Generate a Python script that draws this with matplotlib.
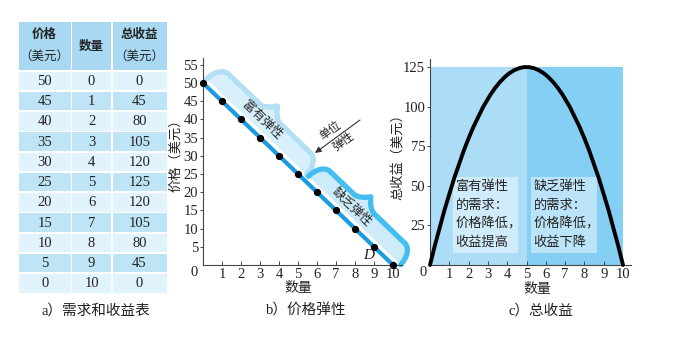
import numpy as np
import matplotlib
matplotlib.use('Agg')
import matplotlib.pyplot as plt
from matplotlib.patches import Rectangle, Polygon, PathPatch
from matplotlib.path import Path

plt.rcParams['font.family'] = ['Liberation Serif', 'Noto Sans CJK SC']

# ---------------- data ----------------
price = [50, 45, 40, 35, 30, 25, 20, 15, 10, 5, 0]
quantity = [0, 1, 2, 3, 4, 5, 6, 7, 8, 9, 10]
revenue = [0, 45, 80, 105, 120, 125, 120, 105, 80, 45, 0]
xticks = [1, 2, 3, 4, 5, 6, 7, 8, 9, 10]
yticks_b = [5, 10, 15, 20, 25, 30, 35, 40, 45, 50, 55]
yticks_c = [25, 50, 75, 100, 125]

W, H = 690, 358
fig = plt.figure(figsize=(W / 100, H / 100), dpi=100)

# overlay axes in pixel coordinates (top-left origin)
ax_t = fig.add_axes([0, 0, 1, 1])
ax_t.set_xlim(0, W)
ax_t.set_ylim(H, 0)
ax_t.axis('off')

CJK = ['Noto Sans CJK SC', 'Liberation Serif']
SER = ['Liberation Serif', 'Noto Sans CJK SC']
TXT = '#222222'

# ---------------- table (a) ----------------
cols = [(18.5, 70.8), (72.0, 111.2), (112.6, 166.5)]
hdr_top, hdr_bot = 21.5, 70.0
row_top0, row_step, row_h = 71.5, 20.25, 18.6
c_hdr, c_light, c_dark = '#a9d9f2', '#e1f3fc', '#bee4f6'
for (x0, x1) in cols:
    ax_t.add_patch(Rectangle((x0, hdr_top), x1 - x0, hdr_bot - hdr_top, fc=c_hdr, ec='none'))
for i in range(len(price)):
    top = row_top0 + row_step * i
    col = c_light if i % 2 == 0 else c_dark
    for (x0, x1) in cols:
        ax_t.add_patch(Rectangle((x0, top), x1 - x0, row_h, fc=col, ec='none'))
    vals = [price[i], quantity[i], revenue[i]]
    for (x0, x1), v in zip(cols, vals):
        ax_t.text((x0 + x1) / 2, top + row_h / 2 + 0.5, str(v), ha='center', va='center',
                  fontsize=10.5, family=SER, color=TXT)
cx = [(a + b) / 2 for a, b in cols]
ax_t.text(cx[0], 34, '价格', ha='center', va='center', fontsize=9, family=CJK,
          fontweight='bold', color=TXT)
ax_t.text(cx[0], 56, '（美元）', ha='center', va='center', fontsize=9, family=CJK, color=TXT)
ax_t.text(cx[1], 46, '数量', ha='center', va='center', fontsize=9, family=CJK,
          fontweight='bold', color=TXT)
ax_t.text(cx[2], 34, '总收益', ha='center', va='center', fontsize=9, family=CJK,
          fontweight='bold', color=TXT)
ax_t.text(cx[2], 56, '（美元）', ha='center', va='center', fontsize=9, family=CJK, color=TXT)
ax_t.text(96, 311, 'a）需求和收益表', ha='center', va='center', fontsize=10.5, family=SER, color=TXT)


def place(x0px, y0px, xppu, yppu, xlim, ylim):
    left = x0px / W
    bottom = (H - y0px) / H
    width = xppu * (xlim[1] - xlim[0]) / W
    height = yppu * (ylim[1] - ylim[0]) / H
    ax = fig.add_axes([left, bottom, width, height])
    ax.set_xlim(*xlim)
    ax.set_ylim(*ylim)
    ax.patch.set_visible(False)
    for s in ['top', 'right']:
        ax.spines[s].set_visible(False)
    for s in ['left', 'bottom']:
        ax.spines[s].set_color('#444444')
        ax.spines[s].set_linewidth(0.8)
    return ax


# ---------------- panel (b) ----------------
ax_b = place(203, 265, 19.0, 3.64, (0, 10.45), (0, 57))
ax_b.set_xticks(xticks)
ax_b.set_yticks(yticks_b)
ax_b.tick_params(axis='x', direction='in', length=3, width=0.7, color='#444444', pad=2,
                 labelsize=10.5, labelcolor=TXT)
ax_b.tick_params(axis='y', direction='out', length=2.5, width=0.7, color='#444444', pad=1,
                 labelsize=10.5, labelcolor=TXT)
ax_b.plot(quantity, price, color='#1b9be0', lw=3.0, zorder=3, clip_on=False,
          solid_capstyle='butt')
ax_b.plot(quantity, price, 'o', color='black', ms=4.2, zorder=4, clip_on=False)

T = ax_b.transData
inv = T.inverted()
A = T.transform((quantity[0], price[0]))
B = T.transform((quantity[-1], price[-1]))
qspan = quantity[-1] - quantity[0]
L = np.linalg.norm(B - A)
d = (B - A) / L
n = np.array([-d[1], d[0]])
ang = np.degrees(np.arctan2(d[1], d[0]))


def pos(q, t):
    return A + d * (L * q / qspan) + n * t


def brace(q0, q1, qm, inner, body, tip, r, lw, fc, ec):
    s0, s1, sm = L * q0 / qspan, L * q1 / qspan, L * qm / qspan
    s = np.linspace(s0, s1, 400)
    t = np.full_like(s, body)
    m = s < s0 + r
    u = (s[m] - s0) / r
    t[m] = inner + (body - inner) * np.sqrt(np.clip(1 - (1 - u) ** 2, 0, 1))
    m = s > s1 - r
    u = (s1 - s[m]) / r
    t[m] = inner + (body - inner) * np.sqrt(np.clip(1 - (1 - u) ** 2, 0, 1))
    w = 15.0
    m = np.abs(s - sm) < w
    t[m] += (tip - body) * (1 - np.abs(s[m] - sm) / w) ** 2
    outer = A + np.outer(s, d) + np.outer(t, n)
    innr = A + np.outer(s[::-1], d) + np.outer(np.full_like(s, inner), n)
    poly = inv.transform(np.vstack([outer, innr]))
    ax_b.add_patch(Polygon(poly, closed=True, fc=fc, ec='none', zorder=1, clip_on=False))
    od = inv.transform(outer)
    ax_b.plot(od[:, 0], od[:, 1], color=ec, lw=lw, solid_capstyle='round', zorder=1.5,
              clip_on=False)


brace(0.0, 5.25, 2.65, 5.5, 24.0, 35.0, 12.0, 3.8, '#d8f0fb', '#b3dff5')
brace(5.35, 10.2, 7.6, 5.5, 24.0, 34.0, 12.0, 3.8, '#cdebf9', '#45bdf0')

p = inv.transform(pos(2.6, 14.0))
ax_b.text(p[0], p[1], '富有弹性', rotation=ang, rotation_mode='anchor', ha='center',
          va='center', fontsize=9, family=CJK, color=TXT, zorder=5)
p = inv.transform(pos(7.35, 14.0))
ax_b.text(p[0], p[1], '缺乏弹性', rotation=ang, rotation_mode='anchor', ha='center',
          va='center', fontsize=9, family=CJK, color=TXT, zorder=5)
ax_b.text(8.7, 2.7, 'D', fontsize=11, style='italic', family=SER, ha='center', va='center',
          color=TXT, zorder=5)

# unit elasticity arrow
ax_t.annotate('', xy=(315, 153), xytext=(360, 120),
              arrowprops=dict(arrowstyle='-|>', color='#333333', lw=0.8, mutation_scale=9,
                              shrinkA=0, shrinkB=0))
ax_t.text(330, 130, '单位', rotation=36, rotation_mode='anchor', ha='center', va='center',
          fontsize=8.5, family=CJK, color=TXT)
ax_t.text(343, 141, '弹性', rotation=36, rotation_mode='anchor', ha='center', va='center',
          fontsize=8.5, family=CJK, color=TXT)

ax_t.text(194, 273, '0', ha='center', va='center', fontsize=10.5, family=SER, color=TXT)
ax_t.text(176, 152, '价格（美元）', rotation=90, ha='center', va='center', fontsize=9.5,
          family=CJK, color=TXT)
ax_t.text(298, 288, '数量', ha='center', va='center', fontsize=10, family=CJK, color=TXT)
ax_t.text(306, 311, 'b）价格弹性', ha='center', va='center', fontsize=10.5, family=SER,
          color=TXT)

# ---------------- panel (c) ----------------
ax_c = place(430, 265, 19.3, 1.584, (0, 10.4), (0, 130))
ax_c.set_xticks(xticks)
ax_c.set_yticks(yticks_c)
ax_c.tick_params(axis='x', direction='in', length=3, width=0.7, color='#444444', pad=2,
                 labelsize=10.5, labelcolor=TXT)
ax_c.tick_params(axis='y', direction='out', length=2.5, width=0.7, color='#444444', pad=1,
                 labelsize=10.5, labelcolor=TXT)
imax = int(np.argmax(revenue))
qmid = quantity[imax]
rmax = revenue[imax]
ax_c.add_patch(Rectangle((quantity[0], 0), qmid - quantity[0], rmax, fc='#abdef6', ec='none',
                         zorder=0))
ax_c.add_patch(Rectangle((qmid, 0), quantity[-1] - qmid, rmax, fc='#84cff3', ec='none',
                         zorder=0))
ax_c.add_patch(Rectangle((1.2, 7.6), 3.35, 48.0, fc='white', alpha=0.45, ec='none', zorder=1))
ax_c.add_patch(Rectangle((5.25, 7.6), 3.4, 48.0, fc='white', alpha=0.45, ec='none', zorder=1))
ax_c.text(1.33, 53.5, '富有弹性\n的需求：\n价格降低，\n收益提高', ha='left', va='top',
          fontsize=9.5, family=CJK, color=TXT, linespacing=1.55, zorder=2)
ax_c.text(5.37, 53.5, '缺乏弹性\n的需求：\n价格降低，\n收益下降', ha='left', va='top',
          fontsize=9.5, family=CJK, color=TXT, linespacing=1.55, zorder=2)

# smooth curve through the data points (quadratic Bezier through each triple)
verts = [(quantity[0], revenue[0])]
codes = [Path.MOVETO]
for i in range(0, len(quantity) - 2, 2):
    p0 = np.array([quantity[i], revenue[i]], float)
    p1 = np.array([quantity[i + 1], revenue[i + 1]], float)
    p2 = np.array([quantity[i + 2], revenue[i + 2]], float)
    ctrl = 2 * p1 - (p0 + p2) / 2
    verts += [tuple(ctrl), tuple(p2)]
    codes += [Path.CURVE3, Path.CURVE3]
ax_c.add_patch(PathPatch(Path(verts, codes), fc='none', ec='black', lw=2.8,
                         capstyle='round', joinstyle='round', zorder=3, clip_on=False))

ax_t.text(423, 273, '0', ha='center', va='center', fontsize=10.5, family=SER, color=TXT)
ax_t.text(398, 154, '总收益（美元）', rotation=90, ha='center', va='center', fontsize=9.5,
          family=CJK, color=TXT)
ax_t.text(537, 289, '数量', ha='center', va='center', fontsize=10, family=CJK, color=TXT)
ax_t.text(541, 311, 'c）总收益', ha='center', va='center', fontsize=10.5, family=SER, color=TXT)

fig.savefig('out.png', dpi=100)
